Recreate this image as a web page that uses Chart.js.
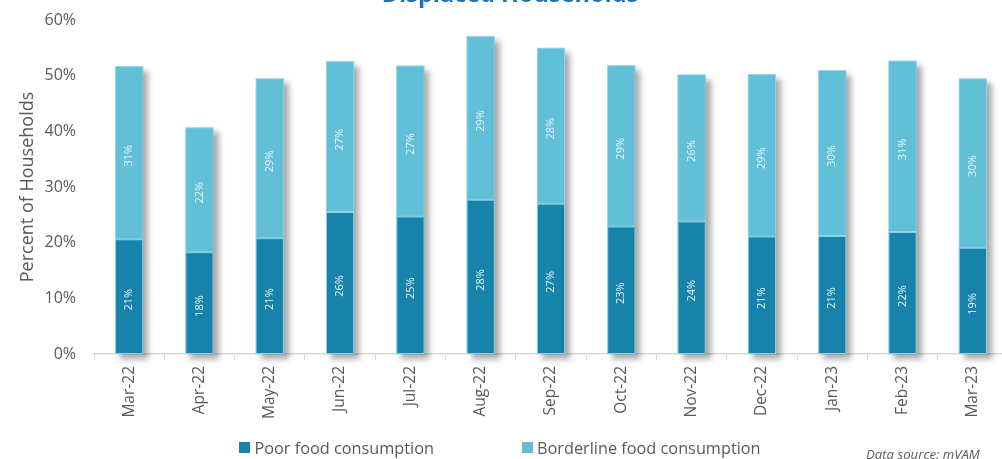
<!DOCTYPE html>
<html>
<head>
<meta charset="utf-8">
<title>Displaced Households</title>
<script src="https://cdn.jsdelivr.net/npm/chart.js@4"></script>
<style>
  html, body { margin: 0; padding: 0; background: #fff; overflow: hidden; }
  #wrap { position: relative; width: 1002px; height: 459px; overflow: hidden; }
  #chart { position: absolute; left: 0; top: 0; }
  #title {
    position: absolute; left: 0; top: -18px; width: 1020px; text-align: center;
    font: bold 23.5px "Open Sans", sans-serif; line-height: 23px; color: #1a72bb;
  }
  #legend {
    position: absolute; left: -1px; top: 437px; width: 1002px; text-align: center;
    font: 16.3px "Open Sans", sans-serif; color: #595959; line-height: 20px;
  }
  #legend .item { display: inline-flex; align-items: center; margin: 0 44px; }
  #legend .box { width: 11px; height: 11px; margin-right: 4px; }
  #source {
    position: absolute; left: 866px; top: 446px;
    font: italic 13.2px "Open Sans", sans-serif; color: #595959; line-height: 16px;
  }
</style>
</head>
<body>
<div id="wrap">
  <canvas id="chart" width="1010" height="459"></canvas>
  <div id="title">Displaced Households</div>
  <div id="legend"></div>
  <div id="source">Data source: mVAM</div>
</div>
<script>
"use strict";

const months = ["Mar-22", "Apr-22", "May-22", "Jun-22", "Jul-22", "Aug-22", "Sep-22",
                "Oct-22", "Nov-22", "Dec-22", "Jan-23", "Feb-23", "Mar-23"];
const poorFood = [20.6, 18.3, 20.8, 25.5, 24.7, 27.7, 27.0, 22.9, 23.8, 21.1, 21.2, 21.9, 19.1];
const borderlineFood = [31.1, 22.4, 28.7, 27.1, 27.1, 29.4, 28.0, 29.0, 26.4, 29.2, 29.8, 30.8, 30.4];
const yTicks = [0, 10, 20, 30, 40, 50, 60];

const DARK = "#1783aa";
const LIGHT = "#62bfd8";
const TEXT = "#595959";
const FONT = "'Open Sans', sans-serif";

// one soft shadow per stacked column, drawn underneath the segments
const columnShadow = {
  id: "columnShadow",
  beforeDatasetsDraw(chart) {
    const metas = chart.getSortedVisibleDatasetMetas();
    if (metas.length < 2) return;
    const ctx = chart.ctx;
    const bottom = metas[0].data;
    const top = metas[metas.length - 1].data;
    ctx.save();
    ctx.shadowColor = "rgba(0,0,0,0.34)";
    ctx.shadowBlur = 6;
    ctx.shadowOffsetX = 5;
    ctx.shadowOffsetY = 5;
    ctx.fillStyle = LIGHT;
    top.forEach((el, i) => {
      const t = el.getProps(["x", "y", "width"], true);
      const b = bottom[i].getProps(["base"], true);
      ctx.fillRect(t.x - t.width / 2, t.y, t.width, b.base - t.y);
    });
    ctx.restore();
  },
};

// rotated percentage labels in the middle of each segment
const segmentLabels = {
  id: "segmentLabels",
  afterDatasetsDraw(chart) {
    const ctx = chart.ctx;
    ctx.save();
    ctx.font = "11px " + FONT;
    ctx.fillStyle = "#eaf6fa";
    ctx.textAlign = "center";
    ctx.textBaseline = "middle";
    chart.getSortedVisibleDatasetMetas().forEach((meta) => {
      const values = chart.data.datasets[meta.index].data;
      meta.data.forEach((el, i) => {
        const p = el.getProps(["x", "y", "base"], true);
        ctx.save();
        ctx.translate(p.x, (p.y + p.base) / 2 + 3);
        ctx.rotate(-Math.PI / 2);
        ctx.fillText(Math.round(values[i]) + "%", 0, 0);
        ctx.restore();
      });
    });
    ctx.restore();
  },
};

const chart = new Chart(document.getElementById("chart"), {
  type: "bar",
  data: {
    labels: months,
    datasets: [
      {
        label: "Poor food consumption",
        data: poorFood,
        backgroundColor: DARK,
        borderColor: "rgba(255,255,255,0.28)",
        borderWidth: 1,
        borderSkipped: false,
      },
      {
        label: "Borderline food consumption",
        data: borderlineFood,
        backgroundColor: LIGHT,
        borderColor: "rgba(255,255,255,0.35)",
        borderWidth: 1,
        borderSkipped: false,
      },
    ],
  },
  options: {
    responsive: false,
    animation: false,
    devicePixelRatio: 1,
    layout: { padding: { top: 20, right: 2, bottom: 39, left: 0 } },
    datasets: { bar: { categoryPercentage: 1, barPercentage: 0.4 } },
    plugins: {
      legend: { display: false },
      tooltip: { enabled: false },
    },
    scales: {
      x: {
        stacked: true,
        afterFit: (s) => { s.height = 66; },
        grid: {
          display: true,
          offset: true,
          drawOnChartArea: false,
          drawTicks: true,
          tickLength: 6,
          color: "#d9d9d9",
        },
        border: { display: true, color: "#d9d9d9", width: 1.5 },
        ticks: {
          color: TEXT,
          font: { family: FONT, size: 15.5 },
          minRotation: 90,
          maxRotation: 90,
          padding: 6,
          autoSkip: false,
        },
      },
      y: {
        stacked: true,
        min: 0,
        max: 60,
        afterFit: (s) => {
          s.width = 94;
          s.paddingTop = 0;
          s.paddingBottom = 0;
        },
        afterBuildTicks: (s) => { s.ticks = yTicks.map((v) => ({ value: v })); },
        grid: { display: false, drawTicks: false },
        border: { display: false },
        ticks: {
          color: TEXT,
          font: { family: FONT, size: 16 },
          padding: 18,
          callback: (v) => v + "%",
        },
        title: {
          display: true,
          text: "Percent of Households",
          color: TEXT,
          font: { family: FONT, size: 18 },
          padding: { top: 17, bottom: 0 },
        },
      },
    },
  },
  plugins: [columnShadow, segmentLabels],
});

// html legend built from the chart's own legend items
const legendEl = document.getElementById("legend");
chart.options.plugins.legend.labels.generateLabels(chart).forEach((item) => {
  const span = document.createElement("span");
  span.className = "item";
  const box = document.createElement("span");
  box.className = "box";
  box.style.background = item.fillStyle;
  span.appendChild(box);
  span.appendChild(document.createTextNode(item.text));
  legendEl.appendChild(span);
});
</script>
</body>
</html>
